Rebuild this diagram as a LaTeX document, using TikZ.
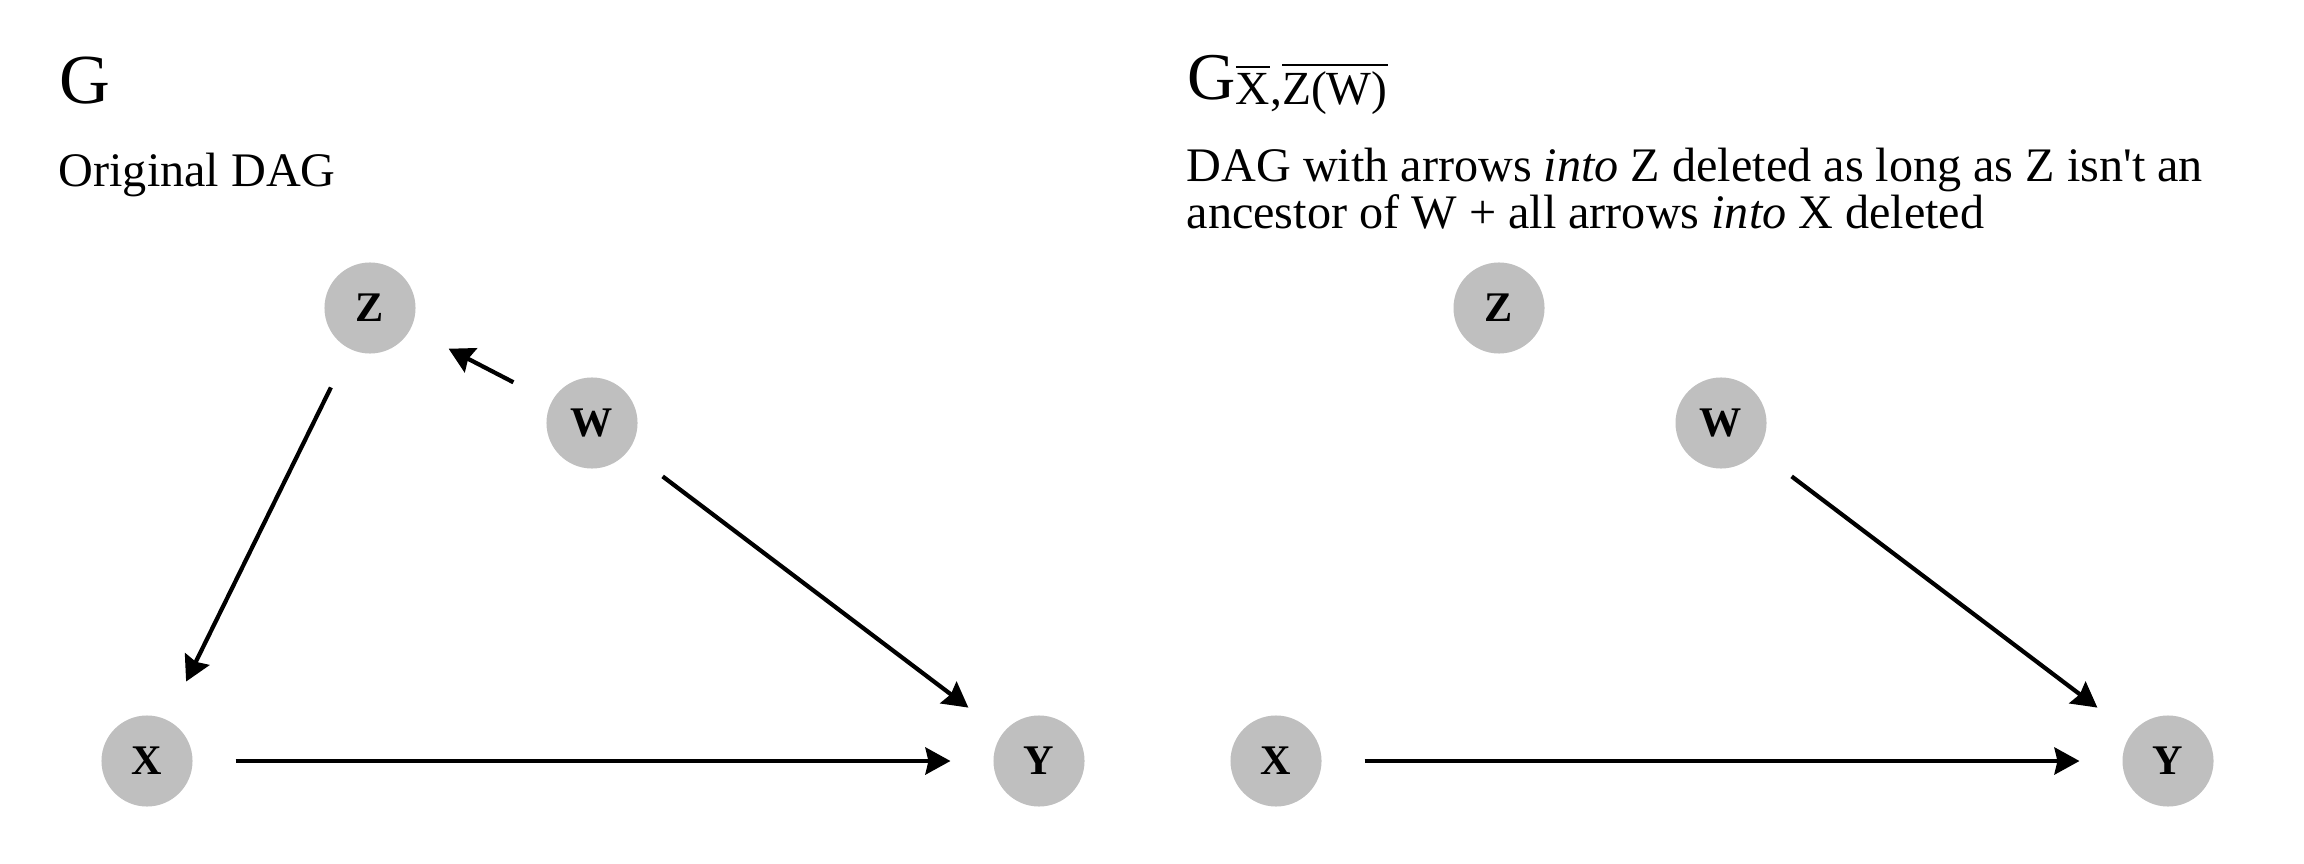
\documentclass[tikz,border=0pt]{standalone}
\usepackage{amsmath}
\usepackage{fontspec}
\setmainfont{Liberation Serif}
\usetikzlibrary{arrows.meta,positioning}

\begin{document}
\begin{tikzpicture}[
  x=0.01cm, y=-0.01cm,
  every node/.style={anchor=center},
  vnode/.style={circle, fill=black!25, inner sep=0pt, minimum size=0.91cm,
    outer sep=0.43cm, font=\fontsize{12}{14}\selectfont\bfseries},
  dagarrow/.style={-{Stealth[length=0.25cm, width=0.27cm, inset=0.03cm]}, line width=1.2pt},
  ttl/.style={anchor=base west, inner sep=0pt, font=\fontsize{20}{24}\selectfont},
  desc/.style={anchor=base west, inner sep=0pt, align=left, font=\fontsize{13.7}{11.6}\selectfont}
]
  \useasboundingbox (0,0) rectangle (2304,864);

  % --- G: Original DAG ---
  \node (ttlG) [ttl] at (59,104) {G};
  \node (descG) [desc] at (58,187) {Original DAG};

  \node (Z) [vnode] at (370,308) {Z};
  \node (W) [vnode] at (592,423) {W};
  \node (X) [vnode] at (147,761) {X};
  \node (Y) [vnode] at (1039,761) {Y};

  \draw[dagarrow] (W) -- (Z);
  \draw[dagarrow] (Z) -- (X);
  \draw[dagarrow] (W) -- (Y);
  \draw[dagarrow] (X) -- (Y);

  % --- mutilated DAG ---
  \node (ttlGm) [ttl, font=\fontsize{19}{22}\selectfont] at (1187,100)
    {G\raisebox{-0.05cm}{\fontsize{13.5}{15}\selectfont
      $\overline{\text{X}}$,$\overline{\text{Z(W)}}$}};
  % base anchor sits on the last line
  \node (descGm) [desc] at (1186,229)
    {DAG with arrows \textit{into} Z deleted as long as Z isn\textquotesingle t an\\
     ancestor of W + all arrows \textit{into} X deleted};

  \node (Zm) [vnode] at (1499,308) {Z};
  \node (Wm) [vnode] at (1721,423) {W};
  \node (Xm) [vnode] at (1276,761) {X};
  \node (Ym) [vnode] at (2168,761) {Y};

  \draw[dagarrow] (Wm) -- (Ym);
  \draw[dagarrow] (Xm) -- (Ym);
\end{tikzpicture}
\end{document}
